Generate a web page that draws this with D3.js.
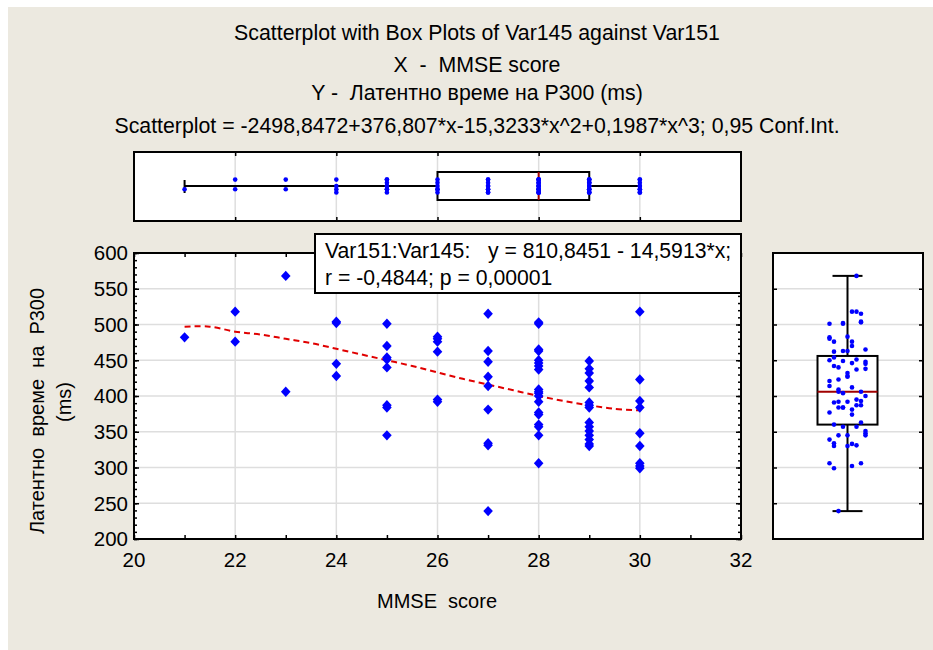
<!DOCTYPE html>
<html>
<head>
<meta charset="utf-8">
<script src="https://cdn.jsdelivr.net/npm/d3@7"></script>
<style>
  body { margin: 0; background: #ffffff; }
  text { font-family: "Liberation Sans", Arial, sans-serif; fill: #000; }
</style>
</head>
<body>
<div id="chart"></div>
<script>
// MMSE score (x) and P300 latency in ms (y), one entry per subject
var mmseScore = [21,
  22, 22,
  23, 23,
  24, 24, 24, 24,
  25, 25, 25, 25, 25, 25, 25, 25,
  26, 26, 26, 26, 26, 26,
  27, 27, 27, 27, 27, 27, 27, 27, 27,
  28, 28, 28, 28, 28, 28, 28, 28, 28, 28, 28, 28, 28, 28, 28, 28, 28, 28, 28,
  29, 29, 29, 29, 29, 29, 29, 29, 29, 29, 29, 29, 29, 29, 29,
  30, 30, 30, 30, 30, 30, 30, 30, 30];
var latency = [482,
  518, 476,
  568, 406,
  504, 502, 445, 428,
  501, 470, 454, 451, 440, 387, 384, 345,
  483, 480, 476, 462, 395, 392,
  515, 463, 448, 427, 414, 381, 334, 331, 239,
  503, 501, 465, 463, 450, 446, 442, 437, 409, 406, 404, 400, 392, 377, 374, 360, 357, 345, 306,
  449, 438, 432, 421, 412, 391, 387, 384, 363, 357, 351, 345, 339, 333, 330,
  518, 423, 393, 384, 348, 330, 306, 302, 299];

// cubic fit
var fitX = [21, 21.5, 22, 22.5, 23, 23.5, 24, 24.5, 25, 25.5, 26, 26.5, 27, 27.5, 28, 28.5, 29, 29.5, 30];
var fitY = [497, 497, 490, 486, 480, 474, 466, 458, 450, 442, 433, 424, 416, 408, 400, 393, 387, 382, 380];

// box plot stats: [whiskerLow, q1, median, q3, whiskerHigh]
var boxX = [21, 26, 28, 29, 30];
var boxY = [239, 360, 406, 456, 568];

var xTicks = [20, 22, 24, 26, 28, 30, 32];
var yTicks = [200, 250, 300, 350, 400, 450, 500, 550, 600];

var titleLines = ["Scatterplot with Box Plots of Var145 against Var151",
  "X  -  MMSE score",
  "Y -  Латентно време на P300 (ms)",
  "Scatterplot = -2498,8472+376,807*x-15,3233*x^2+0,1987*x^3; 0,95 Conf.Int."];
var statLines = ["Var151:Var145:   y = 810,8451 - 14,5913*x;",
  "r = -0,4844; p = 0,00001"];

var W = 933, H = 650;
var main = {left: 134, right: 741, top: 253, bottom: 539};
var topBox = {top: 152, bottom: 221};
var sideBox = {left: 773, right: 923};

var svg = d3.select("#chart").append("svg")
  .attr("width", W).attr("height", H);

svg.append("rect").attr("x", 8).attr("y", 7)
  .attr("width", W - 8).attr("height", H - 7)
  .attr("fill", "#ece9e0");

//titles
svg.selectAll("text.title").data(titleLines).enter().append("text")
  .attr("class", "title")
  .attr("x", 477)
  .attr("y", (d, i) => [40, 72, 100, 133][i])
  .attr("text-anchor", "middle")
  .attr("xml:space", "preserve")
  .style("font-size", "21.3px")
  .text(d => d);

var x = d3.scaleLinear().domain([20, 32]).range([main.left, main.right]);
var y = d3.scaleLinear().domain([200, 600]).range([main.bottom, main.top]);

var gridColor = "#dedede";
var points = mmseScore.map((d, i) => ({x: d, y: latency[i]}));

//---------- main scatterplot ----------
var plot = svg.append("g");
plot.append("rect")
  .attr("x", main.left).attr("y", main.top)
  .attr("width", main.right - main.left).attr("height", main.bottom - main.top)
  .attr("fill", "#fff");

plot.selectAll("line.vgrid").data(xTicks.slice(1, -1)).enter().append("line")
  .attr("x1", d => x(d)).attr("x2", d => x(d))
  .attr("y1", main.top).attr("y2", main.bottom)
  .attr("stroke", gridColor).attr("stroke-width", 1.5);
plot.selectAll("line.hgrid").data(yTicks.slice(1, -1)).enter().append("line")
  .attr("x1", main.left).attr("x2", main.right)
  .attr("y1", d => y(d)).attr("y2", d => y(d))
  .attr("stroke", gridColor).attr("stroke-width", 1.5);

// inward ticks on all four sides
plot.append("g").attr("transform", "translate(0," + main.bottom + ")")
  .call(d3.axisTop(x).ticks(12).tickSize(4).tickFormat(""));
plot.append("g").attr("transform", "translate(0," + main.top + ")")
  .call(d3.axisBottom(x).ticks(12).tickSize(4).tickFormat(""));
plot.append("g").attr("transform", "translate(" + main.left + ",0)")
  .call(d3.axisRight(y).ticks(40).tickSize(3).tickFormat(""));
plot.append("g").attr("transform", "translate(" + main.right + ",0)")
  .call(d3.axisLeft(y).ticks(40).tickSize(3).tickFormat(""));
plot.append("g").attr("transform", "translate(" + main.left + ",0)")
  .call(d3.axisRight(y).tickValues(yTicks).tickSize(5).tickFormat(""));
plot.append("g").attr("transform", "translate(" + main.right + ",0)")
  .call(d3.axisLeft(y).tickValues(yTicks).tickSize(5).tickFormat(""));
plot.selectAll(".domain").remove();
plot.selectAll(".tick line").attr("stroke", "#000").attr("stroke-width", 1.5);

// tick labels
plot.selectAll("text.xlab").data(xTicks).enter().append("text")
  .attr("x", d => x(d)).attr("y", 567)
  .attr("text-anchor", "middle").style("font-size", "20.5px")
  .text(d => d);
plot.selectAll("text.ylab").data(yTicks).enter().append("text")
  .attr("x", 128).attr("y", d => y(d)).attr("dy", "0.36em")
  .attr("text-anchor", "end").style("font-size", "20.5px")
  .text(d => d);

plot.append("text").attr("x", 437).attr("y", 608)
  .attr("text-anchor", "middle").style("font-size", "20px")
  .attr("xml:space", "preserve")
  .text("MMSE  score");
plot.append("text")
  .attr("transform", "translate(44,411) rotate(-90)")
  .attr("text-anchor", "middle").style("font-size", "20px")
  .attr("xml:space", "preserve")
  .text("Латентно  време  на  P300");
plot.append("text")
  .attr("transform", "translate(71,402) rotate(-90)")
  .attr("text-anchor", "middle").style("font-size", "20px")
  .text("(ms)");

// fitted curve
var fitLine = d3.line().x(d => x(d[0])).y(d => y(d[1])).curve(d3.curveCatmullRom);
plot.append("path")
  .datum(fitX.map((d, i) => [d, fitY[i]]))
  .attr("d", fitLine)
  .attr("fill", "none").attr("stroke", "#e00000")
  .attr("stroke-width", 2).attr("stroke-dasharray", "6,4");

//points as diamonds
plot.selectAll("path.pt").data(points).enter().append("path")
  .attr("class", "pt")
  .attr("transform", d => "translate(" + x(d.x) + "," + y(d.y) + ")")
  .attr("d", "M0,-5.2L4.8,0L0,5.2L-4.8,0Z")
  .attr("fill", "#0000ff");

plot.append("rect")
  .attr("x", main.left).attr("y", main.top)
  .attr("width", main.right - main.left).attr("height", main.bottom - main.top)
  .attr("fill", "none").attr("stroke", "#000").attr("stroke-width", 2);

// regression stats box
var stat = svg.append("g");
stat.append("rect").attr("x", 315).attr("y", 234)
  .attr("width", 426).attr("height", 59)
  .attr("fill", "#fff").attr("stroke", "#000").attr("stroke-width", 2);
stat.selectAll("text").data(statLines).enter().append("text")
  .attr("x", 325).attr("y", (d, i) => 258 + i * 27)
  .attr("xml:space", "preserve")
  .style("font-size", "21.2px")
  .text(d => d);

//---------- top box plot (x variable) ----------
var tb = svg.append("g");
var tcy = (topBox.top + topBox.bottom) / 2 - 0.5;
tb.append("rect").attr("x", main.left).attr("y", topBox.top)
  .attr("width", main.right - main.left).attr("height", topBox.bottom - topBox.top)
  .attr("fill", "#fff");
tb.selectAll("line.grid").data(xTicks.slice(1, -1)).enter().append("line")
  .attr("x1", d => x(d)).attr("x2", d => x(d))
  .attr("y1", topBox.top).attr("y2", topBox.bottom)
  .attr("stroke", gridColor).attr("stroke-width", 1.5);
tb.append("g").attr("transform", "translate(0," + topBox.top + ")")
  .call(d3.axisBottom(x).tickValues(xTicks.slice(1, -1)).tickSize(4).tickFormat(""));
tb.append("g").attr("transform", "translate(0," + topBox.bottom + ")")
  .call(d3.axisTop(x).tickValues(xTicks.slice(1, -1)).tickSize(4).tickFormat(""));
tb.selectAll(".domain").remove();
tb.selectAll(".tick line").attr("stroke", "#000").attr("stroke-width", 1.5);

tb.append("line").attr("x1", x(boxX[0])).attr("x2", x(boxX[1]))
  .attr("y1", tcy).attr("y2", tcy).attr("stroke", "#000").attr("stroke-width", 2);
tb.append("line").attr("x1", x(boxX[3])).attr("x2", x(boxX[4]))
  .attr("y1", tcy).attr("y2", tcy).attr("stroke", "#000").attr("stroke-width", 2);
tb.append("line").attr("x1", x(boxX[0])).attr("x2", x(boxX[0]))
  .attr("y1", tcy - 6).attr("y2", tcy + 7).attr("stroke", "#000").attr("stroke-width", 2);
tb.append("line").attr("x1", x(boxX[4])).attr("x2", x(boxX[4]))
  .attr("y1", tcy - 6).attr("y2", tcy + 7).attr("stroke", "#000").attr("stroke-width", 2);
tb.append("rect").attr("x", x(boxX[1])).attr("y", tcy - 14)
  .attr("width", x(boxX[3]) - x(boxX[1])).attr("height", 28)
  .attr("fill", "none").attr("stroke", "#000").attr("stroke-width", 2);
tb.append("line").attr("x1", x(boxX[2])).attr("x2", x(boxX[2]))
  .attr("y1", tcy - 14).attr("y2", tcy + 14).attr("stroke", "#a00000").attr("stroke-width", 2);

// stack points of the same score a little up and down
var seen = {};
tb.selectAll("circle").data(points).enter().append("circle")
  .attr("cx", d => x(d.x))
  .attr("cy", d => {
    var k = seen[d.x] || 0; seen[d.x] = k + 1;
    return tcy + ((k * 2 + 3) % 5 - 2) * 3.2;
  })
  .attr("r", 2.3).attr("fill", "#0000ff");

tb.append("rect").attr("x", main.left).attr("y", topBox.top)
  .attr("width", main.right - main.left).attr("height", topBox.bottom - topBox.top)
  .attr("fill", "none").attr("stroke", "#000").attr("stroke-width", 2);

//---------- side box plot (y variable) ----------
var sb = svg.append("g");
var scx = (sideBox.left + sideBox.right) / 2 - 0.5;
sb.append("rect").attr("x", sideBox.left).attr("y", main.top)
  .attr("width", sideBox.right - sideBox.left).attr("height", main.bottom - main.top)
  .attr("fill", "#fff");
sb.selectAll("line.grid").data(yTicks.slice(1, -1)).enter().append("line")
  .attr("x1", sideBox.left).attr("x2", sideBox.right)
  .attr("y1", d => y(d)).attr("y2", d => y(d))
  .attr("stroke", gridColor).attr("stroke-width", 1.5);
sb.append("g").attr("transform", "translate(" + sideBox.left + ",0)")
  .call(d3.axisRight(y).tickValues(yTicks.slice(1, -1)).tickSize(4).tickFormat(""));
sb.append("g").attr("transform", "translate(" + sideBox.right + ",0)")
  .call(d3.axisLeft(y).tickValues(yTicks.slice(1, -1)).tickSize(4).tickFormat(""));
sb.selectAll(".domain").remove();
sb.selectAll(".tick line").attr("stroke", "#000").attr("stroke-width", 1.5);

sb.append("line").attr("x1", scx).attr("x2", scx)
  .attr("y1", y(boxY[4])).attr("y2", y(boxY[0])).attr("stroke", "#000").attr("stroke-width", 2);
sb.selectAll("line.cap").data([boxY[0], boxY[4]]).enter().append("line")
  .attr("x1", scx - 15).attr("x2", scx + 15)
  .attr("y1", d => y(d)).attr("y2", d => y(d))
  .attr("stroke", "#000").attr("stroke-width", 2);
sb.append("rect").attr("x", scx - 30).attr("y", y(boxY[3]))
  .attr("width", 60).attr("height", y(boxY[1]) - y(boxY[3]))
  .attr("fill", "#fff").attr("stroke", "#000").attr("stroke-width", 2);
sb.append("line").attr("x1", scx - 30).attr("x2", scx + 30)
  .attr("y1", y(boxY[2])).attr("y2", y(boxY[2]))
  .attr("stroke", "#a00000").attr("stroke-width", 2);

sb.selectAll("circle").data(points).enter().append("circle")
  .attr("cx", (d, i) => scx + ((i * 5) % 9 - 4) * 4.5)
  .attr("cy", d => y(d.y))
  .attr("r", 2.3).attr("fill", "#0000ff");

sb.append("rect").attr("x", sideBox.left).attr("y", main.top)
  .attr("width", sideBox.right - sideBox.left).attr("height", main.bottom - main.top)
  .attr("fill", "none").attr("stroke", "#000").attr("stroke-width", 2);
</script>
</body>
</html>
